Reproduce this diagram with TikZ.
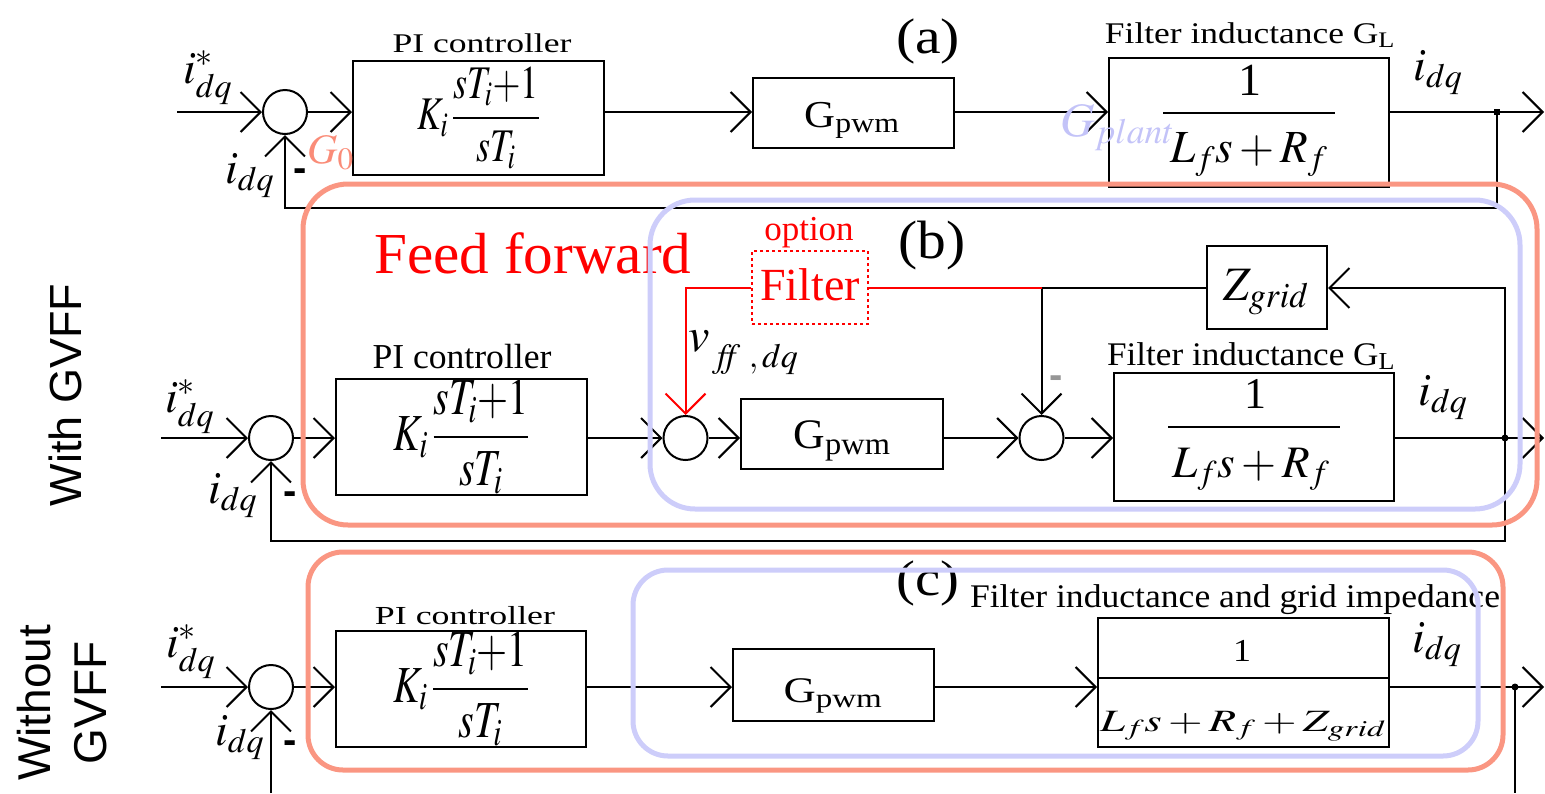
\documentclass[tikz,border=0pt]{standalone}
\usepackage{mathptmx}
\usepackage{graphicx}
\usepackage{fontspec}
\setmainfont{Liberation Serif}
\newfontfamily\sansf{Liberation Sans}
\usetikzlibrary{arrows.meta}
\definecolor{salmon}{RGB}{250,150,130}
\definecolor{lav}{RGB}{205,205,250}
\definecolor{gzero}{RGB}{250,140,120}
\definecolor{gplant}{RGB}{195,195,248}
\definecolor{minusgray}{RGB}{150,150,150}
\newcommand\fsz[1]{\fontsize{#1}{#1}\selectfont}
\newcommand\sw[2]{\resizebox{#1}{\height}{#2}}
\newcommand\pimath{\scalebox{1}[1.3]{$\displaystyle K_i\,\frac{sT_i{+}1}{sT_i}$}}
\begin{document}
\begin{tikzpicture}[x=1pt,y=-1pt,
  box/.style={draw,line width=2pt,inner sep=0pt},
  sumc/.style={draw,circle,line width=2pt,minimum size=44pt,inner sep=0pt},
  arr/.style={line width=2pt,-{Straight Barb[length=20pt,width=40pt]}},
  ln/.style={line width=2pt},
  lbl/.style={inner sep=0pt,anchor=base},
  lblw/.style={inner sep=0pt,anchor=base west},
  jdot/.style={circle,fill,inner sep=0pt,minimum size=7pt},
  salm/.style={draw=salmon,line width=5pt},
  lavr/.style={draw=lav,line width=5pt},
  minus/.style={inner sep=0pt,font=\sansf\bfseries\fsz{40}}]
\useasboundingbox (0,0) rectangle (1545,793);

% ---------------- row (a) ----------------
\node[sumc] (a1) at (285,112) {};
\node[box,minimum width=251pt,minimum height=114pt] (apia) at (478.5,118) {\fsz{36}\pimath};
\node[box,minimum width=201pt,minimum height=70pt] (aG) at (853.5,113) {};
\node[box,minimum width=280pt,minimum height=129pt] (fa) at (1249,122.5) {};
\node[lbl] (aGt) at (852,127) {\fsz{38}\sw{95pt}{G\textsubscript{pwm}}};
\node[lbl] (fa1) at (1250,95) {\fsz{46}1};
\draw[ln] (1163,113) -- (1335,113);
\node[lbl] (fad) at (1249,162) {\fsz{46}\sw{157pt}{$L_f s+R_f$}};
\node[lbl] (apil) at (482,52) {\fsz{27}\sw{179pt}{PI controller}};
\node[lbl] (afl) at (1250,43) {\fsz{30}\sw{290pt}{Filter inductance G\textsubscript{L}}};
\node[lbl] (alab) at (928,53) {\fsz{50}\sw{64pt}{(a)}};
\node[lblw] (aistar) at (183,83) {\fsz{46}$i^{*}_{dq}$};
\node[lblw] (aifb) at (225,183) {\fsz{46}$i_{dq}$};
\node[lblw] (aiout) at (1413,80) {\fsz{46}$i_{dq}$};
\node[minus] (am) at (300,175) {-};

\coordinate (ain) at (177,112);
\coordinate (aout) at (1544,112);
\coordinate (afbc) at (1497,208);
\node[rectangle,fill,minimum size=6pt,inner sep=0pt] (adot) at (1497,112) {};
\draw[arr] (ain) -- (a1.west);
\draw[arr] (a1.east) -- (a1.east -| apia.west);
\draw[arr] (a1 -| apia.east) -- (a1 -| aG.west);
\draw[arr] (a1 -| aG.east) -- (a1 -| fa.west);
\draw[arr] (a1 -| fa.east) -- (aout);
\draw[arr] (adot.center) -- (afbc) -| (a1.south);

% ---------------- row (b) ----------------
\node[sumc] (b1) at (271,438) {};
\node[box,minimum width=251pt,minimum height=116pt] (bpi) at (461.5,437) {\fsz{40}\pimath};
\node[sumc] (b2) at (685.5,438) {};
\node[box,minimum width=202pt,minimum height=70pt] (bG) at (842,434) {};
\node[sumc] (b3) at (1041.5,438) {};
\node[box,minimum width=280pt,minimum height=128pt] (bF) at (1254,437) {};
\node[box,minimum width=120pt,minimum height=83pt] (bZ) at (1267,287.5) {};
\node[draw=red,dashed,line width=2pt,minimum width=116pt,minimum height=73pt,inner sep=0pt] (bfilt) at (810,287.5) {};
\node[lbl] (bGt) at (842,448) {\fsz{42}\sw{97pt}{G\textsubscript{pwm}}};
\node[lbl] (bF1) at (1255,408) {\fsz{44}1};
\draw[ln] (1168,427) -- (1340,427);
\node[lbl] (bFd) at (1251,477) {\fsz{45}\sw{157pt}{$L_f s+R_f$}};
\node[lbl] (bZt) at (1266,300) {\fsz{48}\sw{85pt}{$Z_{grid}$}};
\node[lbl] (bfiltt) at (810,300) {\fsz{46}\color{red}Filter};
\node[lbl] (bopt) at (809,240) {\fsz{35}\color{red}option};
\node[lbl] (bff) at (533,273) {\fsz{58}\color{red}\sw{317pt}{Feed forward}};
\node[lbl] (blab) at (932,258) {\fsz{54}\sw{67pt}{(b)}};
\node[lbl] (bpil) at (462,368) {\fsz{35}\sw{179pt}{PI controller}};
\node[lbl] (bfl) at (1251,365) {\fsz{33}\sw{288pt}{Filter inductance G\textsubscript{L}}};
\node[lblw] (bistar) at (165,412) {\fsz{46}$i^{*}_{dq}$};
\node[lblw] (bifb) at (208,503) {\fsz{46}$i_{dq}$};
\node[lblw] (biout) at (1418,405) {\fsz{46}$i_{dq}$};
\node[lblw] (bv) at (688,351) {\fsz{48}$v$\raisebox{-16pt}{\fsz{34}$\;\mathit{ff}\ ,dq$}};
\node[minus] (bm) at (290,498) {-};
\node[minus,text=minusgray] (bm2) at (1056,382) {-};
\node[rotate=90,inner sep=0pt,font=\sansf\fsz{45}] (withff) at (65,395) {With GVFF};

\coordinate (bin) at (161,438);
\coordinate (bout) at (1544,438);
\coordinate (bzr) at (1505,288);
\coordinate (bfb) at (1505,541);
\node[jdot] (bdot) at (1505,438) {};
\draw[arr] (bin) -- (b1.west);
\draw[arr] (b1.east) -- (b1.east -| bpi.west);
\draw[arr] (b1 -| bpi.east) -- (b2.west);
\draw[arr] (b2.east) -- (b2 -| bG.west);
\draw[arr] (b2 -| bG.east) -- (b3.west);
\draw[arr] (b3.east) -- (b3 -| bF.west);
\draw[arr] (b3 -| bF.east) -- (bout);
\draw[arr] (bdot.center) -- (bzr) -- (bzr -| bZ.east);
\draw[ln] (bZ.west) -- (b3 |- bZ.west);
\draw[arr] (b3 |- bZ.west) -- (b3.north);
\draw[ln,red] (b3 |- bZ.west) -- (bfilt.east);
\draw[arr,red] (bfilt.west) -| (b2.north);
\draw[arr] (bdot.center) -- (bfb) -| (b1.south);

% ---------------- row (c) ----------------
\node[sumc] (c1) at (271,687) {};
\node[box,minimum width=250pt,minimum height=116pt] (cpi) at (461,689) {\fsz{40}\pimath};
\node[box,minimum width=201pt,minimum height=72pt] (cG) at (833.5,685) {};
\node[box,minimum width=291pt,minimum height=129pt] (cF) at (1243.5,682.5) {};
\node[lbl] (cGt) at (833,702) {\fsz{36}\sw{99pt}{G\textsubscript{pwm}}};
\node[lbl] (cF1) at (1242,661) {\fsz{32}\sw{18pt}{1}};
\draw[ln] (cF.west |- 0,678) -- (cF.east |- 0,678);
\node[lbl] (cFd) at (1243,731) {\fsz{31}\sw{286pt}{$L_f s+R_f+Z_{grid}$}};
\node[lbl] (cpil) at (465,624) {\fsz{26}\sw{180pt}{PI controller}};
\node[lbl] (cfl) at (1235,607) {\fsz{33}\sw{530pt}{Filter inductance and grid impedance}};
\node[lbl] (clab) at (928,595) {\fsz{50}\sw{63pt}{(c)}};
\node[lblw] (cistar) at (166,657) {\fsz{46}$i^{*}_{dq}$};
\node[lblw] (cifb) at (215,745) {\fsz{46}$i_{dq}$};
\node[lblw] (ciout) at (1412,652) {\fsz{46}$i_{dq}$};
\node[minus] (cm) at (290,747) {-};
\node[rotate=90,align=center,inner sep=0pt,font={\sansf\fontsize{46}{56}\selectfont}] (withoutff) at (62,703) {Without\\GVFF};

\coordinate (cin) at (161,687);
\coordinate (cout) at (1544,687);
\coordinate (cfb1) at (1515,793);
\coordinate (cfb2) at (271,793);
\node[jdot] (cdot) at (1515,687) {};
\draw[arr] (cin) -- (c1.west);
\draw[arr] (c1.east) -- (c1.east -| cpi.west);
\draw[arr] (c1 -| cpi.east) -- (c1 -| cG.west);
\draw[arr] (c1 -| cG.east) -- (c1 -| cF.west);
\draw[arr] (c1 -| cF.east) -- (cout);
\draw[ln] (cdot.center) -- (cfb1);
\draw[arr] (cfb2) -- (c1.south);

% ---------------- highlight frames ----------------
\draw[salm,rounded corners=45pt] (303,184) rectangle (1537,525);
\draw[lavr,rounded corners=45pt] (650,200) rectangle (1520,509);
\draw[salm,rounded corners=35pt] (308,552) rectangle (1503,770);
\draw[lavr,rounded corners=35pt] (633,570) rectangle (1478,756);

\node[lblw,text=gzero] (g0) at (307,163) {\fsz{42}$G_0$};
\node[lblw,text=gplant] (gpl) at (1060,136) {\fsz{48}$G_{plant}$};
\end{tikzpicture}
\end{document}
